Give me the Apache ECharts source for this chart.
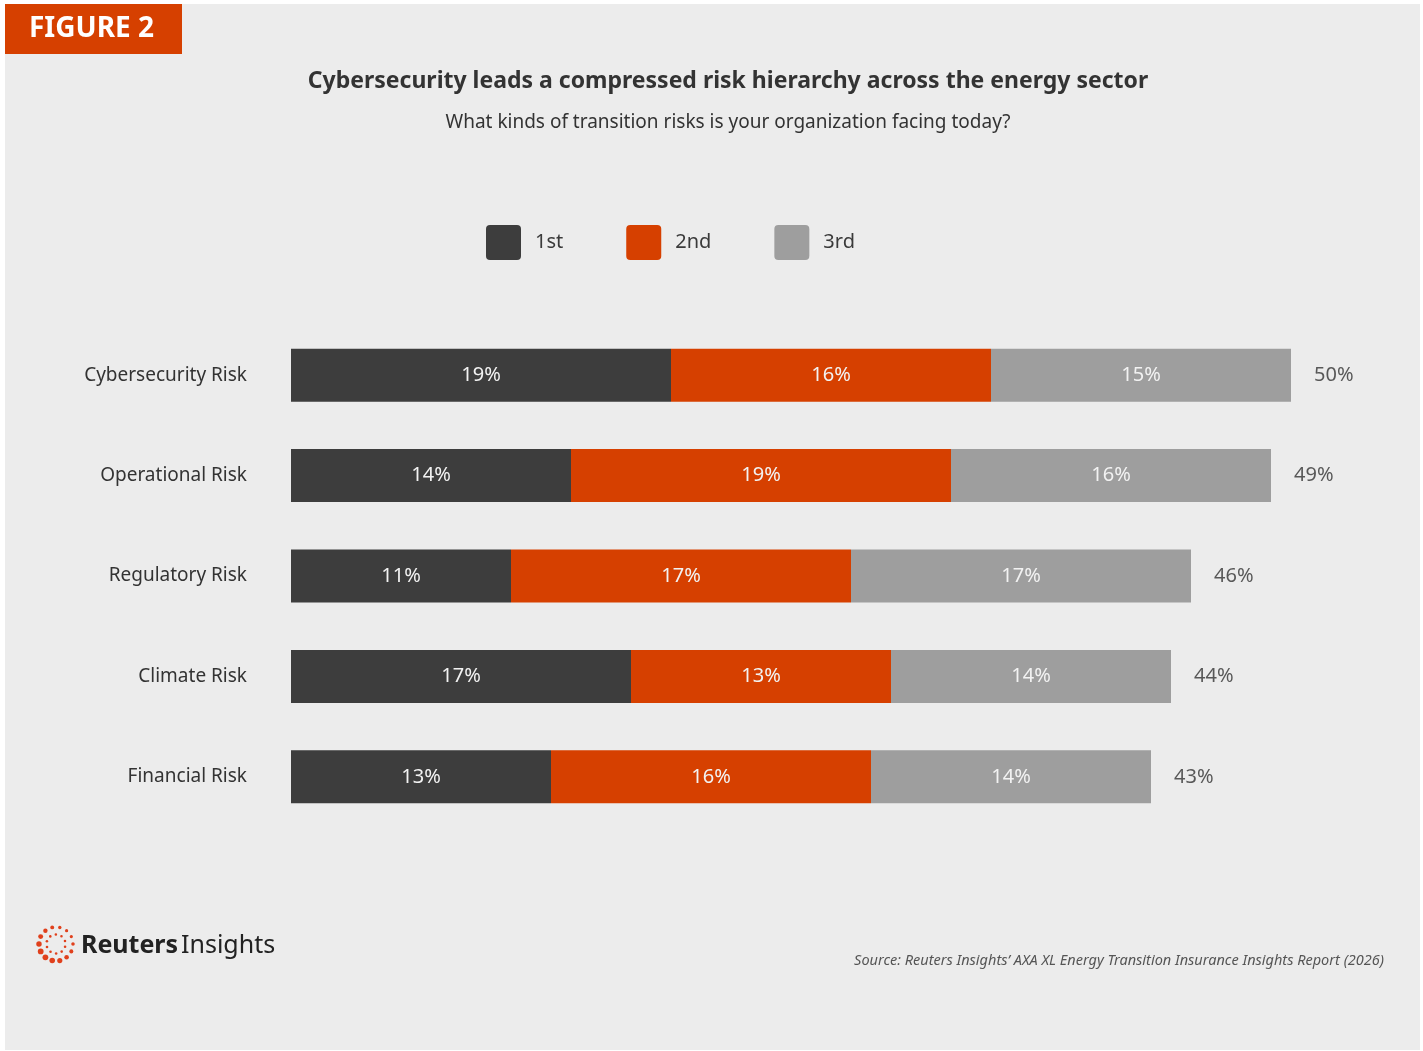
<!DOCTYPE html>
<html>
<head>
<meta charset="utf-8">
<title>Cybersecurity leads a compressed risk hierarchy</title>
<script src="https://cdn.jsdelivr.net/npm/echarts@6/dist/echarts.min.js"></script>
<style>
  html, body { margin: 0; padding: 0; background: #ffffff; }
  #chart { width: 1423px; height: 1051px; }
</style>
</head>
<body>
<div id="chart"></div>
<script>
// Risk categories, top to bottom
const categories = ['Cybersecurity Risk', 'Operational Risk', 'Regulatory Risk', 'Climate Risk', 'Financial Risk'];
// Share of respondents ranking each risk 1st / 2nd / 3rd (%)
const firstRank = [19, 14, 11, 17, 13];
const secondRank = [16, 19, 17, 13, 16];
const thirdRank = [15, 16, 17, 14, 14];
// Reported overall share (rounded separately)
const totals = [50, 49, 46, 44, 43];
const seriesNames = ['1st', '2nd', '3rd'];

const FONT = '"Noto Sans", "Open Sans", sans-serif';
const colors = ['#3d3d3d', '#d64000', '#9e9e9e'];

const chart = echarts.init(document.getElementById('chart'), null, { renderer: 'canvas' });

// Logo dots: outer and inner ring around a common centre
const logoDots = [];
const cx = 56, cy = 944;
for (let i = 0; i < 14; i++) {
  const a = (i / 14) * Math.PI * 2;
  const r = 1.6 + 1.3 * (0.5 + 0.5 * Math.cos(a - 2.4));
  logoDots.push({ type: 'circle', shape: { cx: cx + 17 * Math.cos(a), cy: cy + 17 * Math.sin(a), r: r }, style: { fill: '#e0401c' } });
}
for (let i = 0; i < 10; i++) {
  const a = (i / 10) * Math.PI * 2 + 0.3;
  logoDots.push({ type: 'circle', shape: { cx: cx + 9.5 * Math.cos(a), cy: cy + 9.5 * Math.sin(a), r: 1.3 }, style: { fill: '#e0401c' } });
}

const barLabel = {
  show: true,
  position: 'inside',
  color: '#f2f2f2',
  fontSize: 20,
  fontFamily: FONT,
  formatter: p => p.value + '%'
};

const barSeries = [firstRank, secondRank, thirdRank].map((vals, k) => ({
  name: seriesNames[k],
  type: 'bar',
  stack: 'rank',
  barWidth: 53,
  data: vals,
  itemStyle: { color: colors[k] },
  label: barLabel,
  emphasis: { disabled: true }
}));

// Invisible points at the end of each stack carry the total labels
const stackEnds = categories.map((c, i) => firstRank[i] + secondRank[i] + thirdRank[i]);

chart.setOption({
  backgroundColor: '#ffffff',
  animation: false,
  color: colors,
  textStyle: { fontFamily: FONT },
  title: [
    {
      text: 'Cybersecurity leads a compressed risk hierarchy across the energy sector',
      left: 723, textAlign: 'center', top: 65,
      textStyle: { fontSize: 23, fontWeight: 'bold', color: '#333333', fontFamily: FONT }
    },
    {
      text: 'What kinds of transition risks is your organization facing today?',
      left: 723, textAlign: 'center', top: 108,
      textStyle: { fontSize: 19, fontWeight: 'normal', color: '#333333', fontFamily: FONT }
    }
  ],
  legend: {
    data: seriesNames,
    left: 481, top: 220,
    itemWidth: 35, itemHeight: 35,
    itemGap: 63,
    icon: 'path://M4,0 H31 A4,4 0 0 1 35,4 V31 A4,4 0 0 1 31,35 H4 A4,4 0 0 1 0,31 V4 A4,4 0 0 1 4,0 Z',
    textStyle: { fontSize: 20, color: '#3a3a3a', fontFamily: FONT, padding: [0, 0, 0, 9] },
    selectedMode: false
  },
  grid: { left: 291, width: 1000, top: 325, height: 502, containLabel: false },
  xAxis: {
    type: 'value', min: 0, max: 50,
    show: false
  },
  yAxis: {
    type: 'category', data: categories, inverse: true,
    axisLine: { show: false }, axisTick: { show: false },
    axisLabel: { margin: 44, fontSize: 19, color: '#333333', fontFamily: FONT }
  },
  series: barSeries.concat([{
    type: 'scatter',
    data: stackEnds,
    symbolSize: 0,
    silent: true,
    label: {
      show: true, position: 'right', distance: 23,
      fontSize: 20, color: '#333333', fontFamily: FONT,
      formatter: p => totals[p.dataIndex] + '%'
    },
    z: 5
  }]),
  graphic: [
    { type: 'rect', z: -100, silent: true, shape: { x: 5, y: 4, width: 1415, height: 1046 }, style: { fill: '#ececec' } },
    { type: 'rect', z: 10, silent: true, shape: { x: 5, y: 4, width: 177, height: 50 }, style: { fill: '#d64000' } },
    { type: 'text', z: 11, left: 29, top: 15, style: { text: 'FIGURE 2', fill: '#ffffff', font: 'bold 28px ' + FONT } },
    { type: 'group', z: 11, children: logoDots },
    { type: 'text', z: 11, left: 81, top: 933, style: { text: 'Reuters', fill: '#222222', font: 'bold 25px ' + FONT } },
    { type: 'text', z: 11, left: 181, top: 933, style: { text: 'Insights', fill: '#222222', font: '25px ' + FONT } },
    { type: 'text', z: 11, right: 39, top: 953, style: { text: 'Source: Reuters Insights\u2019 AXA XL Energy Transition Insurance Insights Report (2026)', fill: '#555555', font: 'italic 14.5px ' + FONT } }
  ]
});
</script>
</body>
</html>
